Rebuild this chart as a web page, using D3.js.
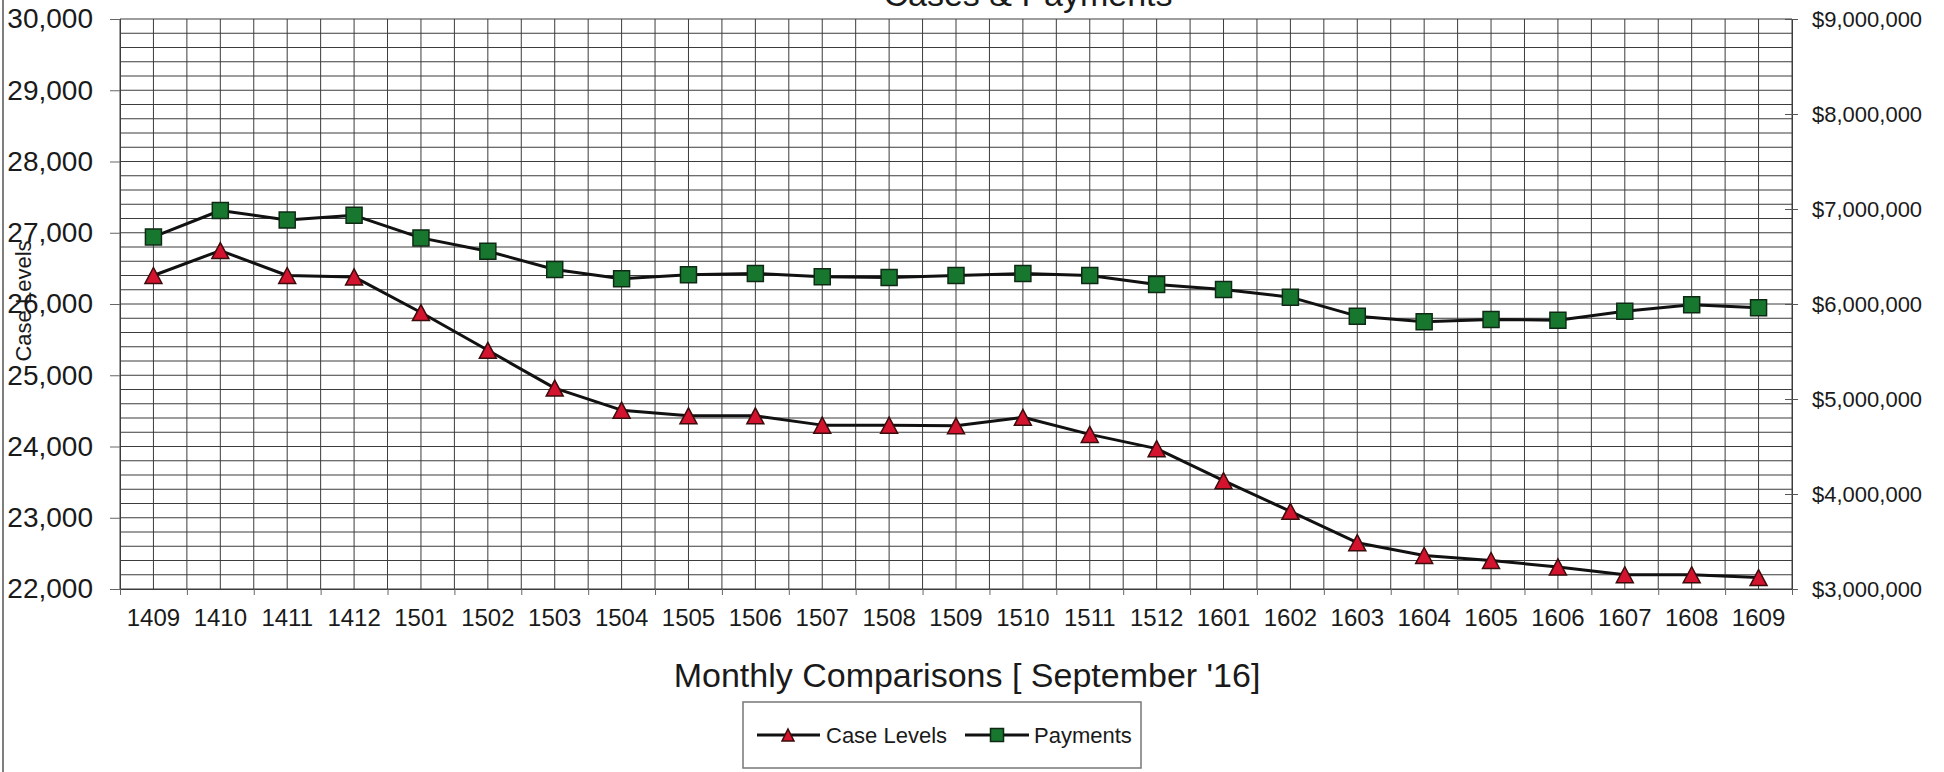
<!DOCTYPE html>
<html>
<head>
<meta charset="utf-8">
<script src="https://cdn.jsdelivr.net/npm/d3@7"></script>
<style>
  html, body { margin: 0; padding: 0; background: #fff; }
  svg { display: block; font-family: "Liberation Sans", Arial, sans-serif; }
</style>
</head>
<body>
<svg id="chart" width="1944" height="772"></svg>
<script>
const categories = ["1409","1410","1411","1412","1501","1502","1503","1504","1505","1506","1507","1508","1509","1510","1511","1512","1601","1602","1603","1604","1605","1606","1607","1608","1609"];
const caseLevels = [26400, 26750, 26400, 26380, 25880, 25350, 24820, 24510, 24430, 24430, 24300, 24300, 24290, 24410, 24170, 23970, 23520, 23090, 22650, 22470, 22400, 22310, 22200, 22200, 22160];
const payments = [6706000, 6984000, 6884000, 6933000, 6696000, 6555000, 6363000, 6265000, 6307000, 6321000, 6286000, 6279000, 6300000, 6321000, 6300000, 6205000, 6152000, 6072000, 5872000, 5813000, 5837000, 5830000, 5924000, 5991000, 5960000];
const leftTicks = [22000, 23000, 24000, 25000, 26000, 27000, 28000, 29000, 30000];
const rightTicks = [3000000, 4000000, 5000000, 6000000, 7000000, 8000000, 9000000];
const seriesNames = ["Case Levels", "Payments"];
const chartTitle = "Cases & Payments";
const xTitle = "Monthly Comparisons [ September '16]";
const yTitle = "Case Levels";

const svg = d3.select("#chart");
const L = 120, R = 1792, T = 19, B = 589;
const textColor = "#1a1a1a";
const gridColor = "#3c3c3c";

const x = d3.scaleBand().domain(categories).range([L, R]).padding(0);
const xi = d3.scaleLinear().domain([0, categories.length]).range([L, R]);
const yL = d3.scaleLinear().domain([22000, 30000]).range([B, T]);
const yR = d3.scaleLinear().domain([3000000, 9000000]).range([B, T]);
const cx = c => x(c) + x.bandwidth() / 2;

svg.append("rect").attr("width", 1944).attr("height", 772).attr("fill", "#fff");
// left border of the chart frame
svg.append("line").attr("x1", 3).attr("x2", 3).attr("y1", 0).attr("y2", 772)
  .attr("stroke", "#555").attr("stroke-width", 1.5);

// grid
const grid = svg.append("g");
grid.selectAll("line.h").data(d3.range(22000, 30001, 200)).join("line")
  .attr("x1", L).attr("x2", R)
  .attr("y1", d => yL(d)).attr("y2", d => yL(d))
  .attr("stroke", gridColor).attr("stroke-width", 1);
grid.selectAll("line.v").data(d3.range(0, categories.length + 0.01, 0.5)).join("line")
  .attr("x1", d => xi(d)).attr("x2", d => xi(d))
  .attr("y1", T).attr("y2", B)
  .attr("stroke", gridColor).attr("stroke-width", 1);

// left axis
const gL = svg.append("g").attr("transform", `translate(${L},0)`)
  .call(d3.axisLeft(yL).tickValues(leftTicks).tickFormat(d3.format(",")).tickSize(10).tickPadding(17));
gL.select(".domain").attr("stroke", gridColor);
gL.selectAll(".tick line").attr("stroke", "#666");
gL.selectAll("text").attr("font-size", 28).attr("fill", textColor).attr("font-family", "Liberation Sans, Arial, sans-serif");

// right axis
const gR = svg.append("g").attr("transform", `translate(${R},0)`)
  .call(d3.axisRight(yR).tickValues(rightTicks).tickFormat(d => "$" + d3.format(",")(d)).tickSize(6).tickPadding(14));
gR.select(".domain").attr("stroke", gridColor);
gR.selectAll(".tick line").attr("x1", -7).attr("stroke", "#555");
gR.selectAll("text").attr("font-size", 22).attr("fill", textColor).attr("font-family", "Liberation Sans, Arial, sans-serif");

// bottom axis: tick marks at category boundaries
const gB = svg.append("g").attr("transform", `translate(0,${B})`)
  .call(d3.axisBottom(xi).tickValues(d3.range(0, categories.length + 1)).tickFormat("").tickSize(6));
gB.select(".domain").attr("stroke", gridColor);
gB.selectAll(".tick line").attr("stroke", "#666");
// bottom labels
const gBL = svg.append("g").attr("transform", `translate(0,${B})`)
  .call(d3.axisBottom(x).tickSize(0).tickPadding(20));
gBL.select(".domain").remove();
gBL.selectAll("text").attr("font-size", 24).attr("fill", textColor).attr("font-family", "Liberation Sans, Arial, sans-serif");

// titles
svg.append("text").attr("x", 1028).attr("y", 6).attr("text-anchor", "middle")
  .attr("font-size", 34).attr("fill", textColor).text(chartTitle);
svg.append("text").attr("x", 967).attr("y", 687).attr("text-anchor", "middle")
  .attr("font-size", 34).attr("fill", textColor).text(xTitle);
svg.append("text").attr("transform", "translate(31,301) rotate(-90)").attr("text-anchor", "middle")
  .attr("font-size", 22).attr("fill", textColor).text(yTitle);

// lines
const lineCase = d3.line().x((d, i) => cx(categories[i])).y(d => yL(d));
const linePay = d3.line().x((d, i) => cx(categories[i])).y(d => yR(d));
svg.append("path").datum(caseLevels).attr("d", lineCase).attr("fill", "none")
  .attr("stroke", "#111").attr("stroke-width", 3).attr("stroke-linejoin", "round");
svg.append("path").datum(payments).attr("d", linePay).attr("fill", "none")
  .attr("stroke", "#111").attr("stroke-width", 3).attr("stroke-linejoin", "round");

const triPath = (w, h) => `M0,${-h/2}L${w/2},${h/2}L${-w/2},${h/2}Z`;
const sqPath = s => `M${-s/2},${-s/2}h${s}v${s}h${-s}Z`;
const redFill = "#d4132f", redStroke = "#3a0c0c";
const greenFill = "#18772f", greenStroke = "#0f2a14";

svg.append("g").selectAll("path").data(payments).join("path")
  .attr("transform", (d, i) => `translate(${cx(categories[i])},${yR(d)})`)
  .attr("d", sqPath(16)).attr("fill", greenFill).attr("stroke", greenStroke).attr("stroke-width", 1.5);
svg.append("g").selectAll("path").data(caseLevels).join("path")
  .attr("transform", (d, i) => `translate(${cx(categories[i])},${yL(d)})`)
  .attr("d", triPath(17, 16)).attr("fill", redFill).attr("stroke", redStroke).attr("stroke-width", 1.5);

// legend
const lg = svg.append("g");
lg.append("rect").attr("x", 743).attr("y", 702).attr("width", 398).attr("height", 66)
  .attr("fill", "#fff").attr("stroke", "#777").attr("stroke-width", 1.5);
const ly = 735;
lg.append("line").attr("x1", 757).attr("x2", 820).attr("y1", ly).attr("y2", ly).attr("stroke", "#111").attr("stroke-width", 3);
lg.append("path").attr("transform", `translate(788,${ly})`).attr("d", triPath(12, 12))
  .attr("fill", redFill).attr("stroke", redStroke).attr("stroke-width", 1.5);
lg.append("text").attr("x", 826).attr("y", ly + 8).attr("font-size", 22).attr("fill", textColor).text(seriesNames[0]);
lg.append("line").attr("x1", 965).attr("x2", 1029).attr("y1", ly).attr("y2", ly).attr("stroke", "#111").attr("stroke-width", 3);
lg.append("path").attr("transform", `translate(997,${ly})`).attr("d", sqPath(13))
  .attr("fill", greenFill).attr("stroke", greenStroke).attr("stroke-width", 1.5);
lg.append("text").attr("x", 1034).attr("y", ly + 8).attr("font-size", 22).attr("fill", textColor).text(seriesNames[1]);
</script>
</body>
</html>
